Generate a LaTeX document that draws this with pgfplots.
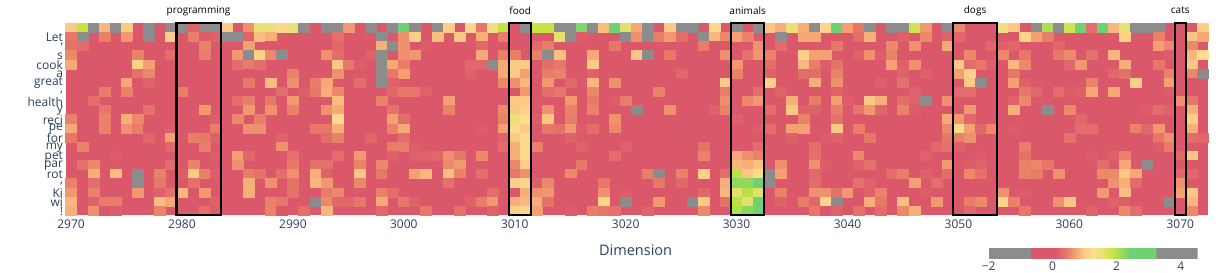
\documentclass[border=0pt]{standalone}
\usepackage{pgfplots}
\pgfplotsset{compat=1.18}
\usepackage{fontspec}
\setmainfont{Open Sans}
\definecolor{tk}{HTML}{2A3F5F}
\definecolor{cellred}{RGB}{219,88,107}
\pgfplotstableread{
x y z
2970 0 1
2971 0 1.9
2972 0 -1
2973 0 .85
2974 0 -1
2975 0 1
2977 0 -1
2979 0 -1
2980 0 -1
2981 0 .2
2982 0 -1
2983 0 -1
2984 0 1
2986 0 .6
2987 0 1.5
2988 0 1.5
2989 0 1.2
2990 0 1.5
2991 0 -1
2993 0 -1
2994 0 -1
2995 0 .65
2997 0 -1
2999 0 -1
3000 0 2.4
3001 0 -1
3003 0 -1
3004 0 1.05
3006 0 1.15
3007 0 .4
3008 0 1.4
3009 0 1.9
3011 0 -1
3012 0 1.9
3013 0 1.9
3014 0 -1
3015 0 -1
3016 0 2.3
3017 0 -1
3018 0 .9
3019 0 2.4
3020 0 1.6
3021 0 .75
3022 0 -1
3024 0 1
3025 0 -1
3026 0 -1
3028 0 1.2
3030 0 -1
3032 0 -1
3033 0 .95
3034 0 .8
3035 0 1.5
3036 0 .8
3037 0 -1
3038 0 1.15
3039 0 2.4
3040 0 .7
3041 0 .4
3042 0 -1
3044 0 -1
3045 0 -1
3046 0 1.8
3047 0 .65
3049 0 -1
3050 0 .55
3054 0 1.4
3055 0 .95
3057 0 -1
3058 0 2.05
3059 0 -1
3060 0 1.8
3061 0 2.4
3062 0 .3
3063 0 2.4
3064 0 .85
3065 0 1.55
3066 0 -1
3067 0 -1
3068 0 -1
3072 0 1.05
2970 1 .4
2971 1 -1
2973 1 .5
2975 1 .65
2977 1 -1
2979 1 1.05
2981 1 .45
2982 1 .15
2983 1 .2
2984 1 -1
2985 1 -1
2986 1 .2
2987 1 .9
2988 1 .8
2994 1 .35
2998 1 -1
3000 1 .6
3001 1 1.05
3003 1 .9
3005 1 .95
3007 1 .8
3009 1 .45
3014 1 1.6
3015 1 -1
3016 1 .15
3020 1 -1
3021 1 .6
3022 1 -1
3023 1 .45
3024 1 .65
3025 1 .3
3027 1 -1
3028 1 .85
3029 1 .55
3030 1 .7
3031 1 .5
3034 1 -1
3036 1 .75
3037 1 .75
3041 1 .3
3042 1 .8
3045 1 .2
3047 1 .55
3049 1 .2
3050 1 .25
3055 1 .1
3056 1 1.15
3057 1 .7
3058 1 .45
3065 1 1.1
3068 1 .5
3071 1 .95
3072 1 .75
2970 2 .35
2971 2 .3
2976 2 .1
2982 2 .5
2986 2 .7
2988 2 .1
2990 2 .1
2993 2 .1
2994 2 .25
2998 2 .8
2999 2 -1
3000 2 .6
3002 2 .15
3007 2 .25
3012 2 .25
3013 2 .45
3019 2 .4
3027 2 .45
3028 2 .1
3029 2 .1
3032 2 .6
3034 2 .3
3039 2 .4
3044 2 .55
3046 2 .6
3049 2 .75
3053 2 .25
3054 2 .2
3055 2 .25
3059 2 .25
3068 2 .7
3069 2 .55
3071 2 .55
2970 3 .55
2976 3 .5
2979 3 .3
2982 3 .45
2985 3 .65
2986 3 -1
2987 3 1.1
2988 3 .55
2989 3 -1
2993 3 .6
2994 3 .3
2997 3 .2
2998 3 -1
3000 3 .6
3001 3 .65
3007 3 .75
3009 3 .5
3010 3 .45
3012 3 .5
3013 3 -1
3014 3 .9
3017 3 .75
3021 3 .95
3022 3 -1
3024 3 .4
3029 3 .6
3031 3 .35
3032 3 .65
3033 3 .5
3036 3 1.1
3037 3 .7
3038 3 .7
3041 3 .2
3042 3 .6
3043 3 .15
3044 3 .5
3045 3 .1
3051 3 .55
3054 3 .55
3056 3 .4
3059 3 .4
3060 3 .55
3062 3 .35
3064 3 .85
3069 3 .15
3071 3 .85
3072 3 1.25
2970 4 .75
2973 4 .1
2975 4 .1
2976 4 1.1
2977 4 .7
2985 4 .3
2986 4 .45
2987 4 .3
2994 4 .95
2995 4 .4
2996 4 .15
2998 4 -1
2999 4 .75
3000 4 .45
3004 4 .1
3006 4 .25
3007 4 .25
3008 4 -1
3009 4 .75
3010 4 1
3011 4 1
3013 4 .3
3014 4 .4
3017 4 1
3030 4 .65
3033 4 .3
3036 4 .85
3037 4 .45
3038 4 .15
3039 4 .35
3044 4 .7
3045 4 .2
3046 4 .6
3050 4 .95
3051 4 .3
3052 4 .4
3053 4 .2
3055 4 .85
3056 4 .55
3060 4 .25
3061 4 .65
3065 4 .8
3068 4 .4
3071 4 .95
2976 5 .35
2977 5 .55
2986 5 .1
2990 5 .5
2992 5 .1
2994 5 .6
2998 5 -1
2999 5 .4
3000 5 .7
3006 5 .2
3007 5 .1
3009 5 .75
3010 5 1
3011 5 .7
3013 5 .45
3014 5 .5
3017 5 .2
3025 5 .25
3029 5 .1
3030 5 .5
3033 5 .2
3036 5 .3
3037 5 .3
3039 5 .5
3045 5 .2
3047 5 .2
3050 5 .7
3051 5 1.05
3055 5 .4
3064 5 .25
3065 5 .35
3069 5 .5
3071 5 .55
3072 5 -1
2975 6 .75
2976 6 .1
2977 6 .2
2986 6 .4
2988 6 .9
2990 6 .6
2992 6 .45
2993 6 .75
2996 6 .3
2998 6 -1
2999 6 .2
3009 6 .55
3010 6 .6
3011 6 .85
3013 6 .65
3015 6 .25
3017 6 .85
3019 6 .6
3025 6 .1
3029 6 1
3033 6 1.1
3035 6 .1
3037 6 .8
3039 6 .6
3043 6 .2
3045 6 .35
3051 6 1
3052 6 -1
3055 6 .7
3056 6 .2
3062 6 .5
3064 6 .1
3066 6 1.05
3069 6 .7
3071 6 .1
2973 7 .45
2975 7 .5
2980 7 .45
2982 7 .1
2989 7 .3
2991 7 .15
2992 7 .4
2993 7 .8
2994 7 .55
2999 7 .25
3000 7 .4
3001 7 .4
3002 7 .2
3011 7 .65
3013 7 .3
3014 7 .4
3017 7 .55
3023 7 .5
3029 7 .45
3030 7 .1
3032 7 .3
3034 7 .2
3037 7 .1
3039 7 .2
3046 7 .2
3050 7 .3
3051 7 .3
3056 7 .4
3057 7 .25
3059 7 .3
3060 7 .15
3061 7 .2
3062 7 .75
3064 7 .75
3069 7 .15
2972 8 .3
2985 8 .3
2986 8 .45
2988 8 .4
2989 8 .1
2990 8 .65
2994 8 .9
2998 8 .5
3002 8 .1
3004 8 .7
3010 8 1
3011 8 1
3015 8 .65
3017 8 .4
3019 8 .15
3020 8 .45
3027 8 .1
3029 8 .6
3031 8 .55
3032 8 .65
3035 8 .8
3037 8 .45
3039 8 .7
3040 8 .15
3041 8 .1
3042 8 .95
3043 8 .8
3045 8 .3
3046 8 .2
3047 8 -1
3049 8 .6
3055 8 .2
3056 8 .55
3070 8 .6
3071 8 .4
2973 9 .4
2977 9 .35
2982 9 .65
2986 9 .65
2988 9 .6
2990 9 .5
2993 9 .6
2994 9 .75
2999 9 .35
3004 9 .5
3009 9 .55
3010 9 .95
3011 9 1.1
3013 9 .6
3015 9 .5
3017 9 .5
3021 9 -1
3024 9 .6
3028 9 .2
3029 9 .5
3033 9 .3
3035 9 .95
3036 9 .2
3037 9 .2
3039 9 .45
3041 9 .4
3042 9 .65
3043 9 .25
3045 9 .5
3046 9 .15
3051 9 .65
3055 9 .8
3058 9 -1
3060 9 .55
3066 9 .1
3067 9 .15
3068 9 .3
3069 9 .2
3071 9 .8
2970 10 .5
2973 10 .5
2975 10 .8
2976 10 .55
2983 10 .15
2985 10 .55
2987 10 .45
2994 10 1.2
2999 10 .7
3000 10 .3
3009 10 .5
3010 10 1.5
3011 10 1.25
3012 10 .15
3013 10 .95
3015 10 .45
3019 10 .6
3030 10 .2
3036 10 .5
3039 10 .35
3041 10 .1
3049 10 .75
3050 10 .65
3051 10 .25
3061 10 .25
3071 10 1.05
2970 11 .75
2973 11 .5
2975 11 .6
2976 11 .45
2977 11 .1
2979 11 .15
2983 11 .45
2986 11 .6
2987 11 .6
2992 11 .4
2993 11 .4
2994 11 .8
2999 11 .5
3000 11 .75
3007 11 .15
3009 11 .7
3010 11 1.2
3011 11 1
3013 11 .4
3014 11 .35
3015 11 .65
3016 11 .15
3017 11 .3
3019 11 .55
3028 11 .1
3032 11 .15
3033 11 .3
3035 11 .7
3036 11 .7
3039 11 1
3041 11 .45
3049 11 .55
3050 11 1.2
3051 11 .7
3052 11 .25
3053 11 .55
3055 11 .15
3061 11 .3
3062 11 .3
3066 11 .5
3067 11 .25
3068 11 .65
3071 11 .8
2970 12 .4
2977 12 .25
2979 12 .7
2981 12 .45
2982 12 .4
2983 12 .2
2989 12 .2
2993 12 .3
2994 12 .5
2997 12 .25
3000 12 .3
3009 12 .2
3010 12 1
3011 12 1.2
3015 12 .2
3019 12 .1
3035 12 .2
3038 12 .15
3039 12 .2
3042 12 .4
3049 12 .4
3050 12 .5
3051 12 .6
3060 12 .35
3066 12 .1
3068 12 .4
3069 12 .6
3071 12 .3
3072 12 .25
2971 13 .5
2975 13 .1
2979 13 .25
2982 13 .45
2989 13 .6
2999 13 .45
3000 13 .45
3001 13 .15
3007 13 .1
3009 13 .3
3010 13 .8
3011 13 1.2
3012 13 .5
3016 13 .2
3020 13 .2
3027 13 .35
3032 13 .3
3037 13 .3
3048 13 .25
3049 13 .35
3050 13 .2
3056 13 .45
3061 13 .1
3068 13 .15
3069 13 .45
2974 14 .15
2983 14 .15
2984 14 .1
2985 14 .7
2986 14 .25
2989 14 .1
2990 14 .35
2994 14 .3
2996 14 .65
2999 14 .2
3001 14 .2
3002 14 .2
3003 14 .25
3004 14 .6
3005 14 .4
3007 14 .55
3010 14 .8
3011 14 1.2
3019 14 .3
3027 14 .5
3030 14 .75
3031 14 .6
3032 14 .5
3037 14 .35
3041 14 .55
3042 14 .1
3047 14 .2
3051 14 .1
3052 14 .15
3056 14 .35
3062 14 .15
3064 14 .2
3065 14 .5
3070 14 .25
3071 14 .95
2971 15 .35
2972 15 .55
2979 15 .3
2981 15 .5
2985 15 .6
2989 15 .1
2990 15 .4
2992 15 .35
2993 15 .35
2996 15 .5
2998 15 .55
3004 15 .55
3005 15 .65
3009 15 .1
3010 15 .55
3011 15 1.05
3012 15 .1
3016 15 .4
3017 15 .1
3030 15 .85
3031 15 .8
3032 15 .9
3034 15 .6
3037 15 .6
3038 15 .15
3041 15 .2
3042 15 .35
3049 15 .65
3050 15 .1
3051 15 .15
3052 15 .2
3056 15 .5
3057 15 .55
3058 15 .4
3060 15 .1
3063 15 .3
3065 15 .75
3067 15 -1
3070 15 .1
3071 15 .1
2972 16 .8
2974 16 .9
2976 16 -1
2978 16 .5
2980 16 .15
2981 16 1
2982 16 .5
2983 16 .15
2986 16 .45
2987 16 .35
2989 16 .3
2990 16 .6
2992 16 .8
2993 16 .2
2994 16 .1
2996 16 .95
2998 16 .4
2999 16 .1
3001 16 .7
3002 16 .85
3004 16 .9
3005 16 .5
3007 16 .3
3010 16 .4
3011 16 .6
3015 16 .55
3019 16 .1
3022 16 .45
3023 16 -1
3025 16 .5
3027 16 1.1
3029 16 .3
3030 16 1.95
3031 16 .95
3032 16 1.35
3033 16 -1
3034 16 .7
3037 16 .25
3044 16 .3
3045 16 .45
3047 16 .2
3049 16 .3
3051 16 .55
3052 16 .35
3056 16 .5
3057 16 .45
3059 16 .6
3063 16 .55
3064 16 .55
3065 16 .95
3066 16 .75
3070 16 .25
3071 16 .25
2970 17 .5
2972 17 .3
2974 17 .1
2976 17 -1
2978 17 .4
2981 17 .35
2986 17 .8
2988 17 .6
2990 17 .35
2992 17 .85
2993 17 .65
2996 17 .55
3004 17 .35
3005 17 .1
3010 17 1.05
3011 17 1.15
3012 17 .15
3013 17 .55
3015 17 .1
3018 17 .4
3023 17 .4
3025 17 .25
3029 17 .8
3030 17 2.2
3031 17 2.2
3032 17 2.4
3033 17 -1
3037 17 .3
3039 17 .1
3041 17 .35
3042 17 .2
3046 17 .7
3048 17 .3
3064 17 .6
3065 17 .8
3066 17 .3
3070 17 .6
2970 18 .65
2972 18 .5
2976 18 .65
2978 18 .2
2979 18 .35
2980 18 .85
2982 18 .65
2986 18 .8
2990 18 .35
2993 18 .45
2994 18 .55
2998 18 .5
2999 18 .3
3008 18 .3
3011 18 .8
3012 18 .6
3013 18 .65
3018 18 .6
3020 18 .15
3027 18 .25
3029 18 .85
3030 18 1.6
3031 18 1.95
3032 18 1.6
3034 18 .5
3037 18 .6
3038 18 .6
3039 18 .35
3040 18 .65
3041 18 .1
3042 18 .2
3043 18 .5
3047 18 .15
3051 18 .1
3054 18 .6
3056 18 .15
3063 18 .65
3065 18 .9
3070 18 .7
3071 18 .95
2970 19 .85
2972 19 .2
2973 19 .45
2974 19 .45
2978 19 .9
2979 19 .75
2983 19 .2
2988 19 .5
2989 19 .4
2992 19 -1
2993 19 .55
2994 19 .25
2995 19 .25
2996 19 .4
2998 19 .75
3000 19 .4
3001 19 .2
3002 19 .1
3006 19 .2
3007 19 .45
3008 19 .65
3009 19 .1
3010 19 .8
3011 19 .85
3012 19 .8
3013 19 .35
3018 19 1.15
3020 19 -1
3023 19 .65
3026 19 -1
3027 19 1
3029 19 .35
3030 19 1.95
3031 19 1.6
3032 19 2.4
3034 19 .2
3036 19 .45
3037 19 .25
3038 19 1.15
3039 19 -1
3042 19 .8
3043 19 .4
3045 19 .9
3047 19 .1
3048 19 .65
3051 19 .45
3052 19 .55
3054 19 1.15
3055 19 .5
3059 19 .6
3060 19 .95
3062 19 .1
3064 19 .2
3065 19 .15
3066 19 .1
3069 19 -1
3071 19 .85
2970 20 .8
2972 20 .6
2973 20 .1
2974 20 .15
2978 20 .5
2982 20 .35
2983 20 .15
2988 20 .5
2989 20 .1
2991 20 .3
2993 20 .85
2998 20 .25
3002 20 .4
3005 20 .35
3008 20 .2
3010 20 1.05
3011 20 1.15
3012 20 .7
3015 20 .15
3017 20 .45
3018 20 .4
3019 20 .35
3022 20 .2
3027 20 .55
3030 20 2
3031 20 2.25
3032 20 2.4
3037 20 .4
3038 20 .1
3039 20 .2
3041 20 .35
3043 20 .3
3045 20 .55
3046 20 .8
3051 20 .25
3056 20 .4
3062 20 .2
3065 20 .55
3066 20 .3
3070 20 .1
3071 20 .55
}\cells
\pgfplotsset{boxline/.style={black,line width=2.2pt,no marks}}
\begin{document}
\begin{tikzpicture}[x=1pt,y=1pt]
\useasboundingbox (0,0) rectangle (1226,273);
\begin{axis}[
  at={(65.5pt,58pt)},anchor=south west,
  scale only axis,width=1142.5pt,height=192pt,
  xmin=2969.5,xmax=3072.5,ymin=-0.5,ymax=20.5,y dir=reverse,
  clip=false,
  axis line style={draw=none},
  major tick length=0pt,tick style={draw=none},
  xtick={2970,2980,...,3070},
  xticklabels={2970,2980,2990,3000,3010,3020,3030,3040,3050,3060,3070},
  ytick={1,...,20},
  yticklabels={Let,{'},s,cook,a,great,{,},health,y,reci,pe,for,my,pet,par,rot,{,},Ki,wi,!},
  tick label style={font=\fontsize{12}{12}\selectfont,text=tk},
  xticklabel style={yshift=-1pt},
  yticklabel style={xshift=1pt,yshift=-1pt},
  xlabel={Dimension},
  xlabel style={at={(axis description cs:0.499,-0.182)},anchor=center,font=\fontsize{14.5}{14.5}\selectfont,text=tk},
  colormap={hm}{
    rgb255(0cm)=(140,140,140) rgb255(1.31cm)=(140,140,140)
    rgb255(1.32cm)=(219,88,107) rgb255(2.1cm)=(219,88,107)
    rgb255(2.5cm)=(234,130,105) rgb255(2.7cm)=(244,160,115)
    rgb255(2.95cm)=(252,198,132) rgb255(3.25cm)=(253,222,140)
    rgb255(3.55cm)=(232,225,115) rgb255(3.9cm)=(195,228,65)
    rgb255(4.4cm)=(110,210,115) rgb255(5.22cm)=(110,210,115)
    rgb255(5.23cm)=(140,140,140) rgb255(6.53cm)=(140,140,140)
  },
  point meta min=-2,point meta max=4.53,
  colorbar horizontal,
  colorbar style={
    at={(0.808,-0.224)},anchor=south west,
    scale only axis,width=209pt,height=10pt,
    xtick={-2,0,2,4},xticklabels={−2,0,2,4},
    axis line style={draw=none},major tick length=0pt,
    xticklabel style={font=\fontsize{12}{12}\selectfont,text=tk},
    ylabel={},xlabel={}
  },
]
\addplot[draw=none,fill=cellred,forget plot] coordinates {(2969.5,-0.5)(3072.5,-0.5)(3072.5,20.5)(2969.5,20.5)} --cycle;
\addplot[scatter,only marks,mark=square*,mark size=5.5pt,
  scatter/use mapped color={draw=mapped color,fill=mapped color,line width=0.1pt},
  every mark/.append style={yscale=0.824},
  point meta=explicit] table[x=x,y=y,meta=z] {\cells};
\end{axis}
\begin{axis}[
  at={(65.5pt,58pt)},anchor=south west,
  scale only axis,width=1142.5pt,height=192pt,
  xmin=2969.5,xmax=3072.5,ymin=-0.5,ymax=20.5,y dir=reverse,
  clip=false,hide axis,
]
\addplot[boxline] coordinates {(2979.5,-0.5)(2983.5,-0.5)(2983.5,20.5)(2979.5,20.5)} --cycle;
\addplot[boxline] coordinates {(3009.5,-0.5)(3011.5,-0.5)(3011.5,20.5)(3009.5,20.5)} --cycle;
\addplot[boxline] coordinates {(3029.5,-0.5)(3032.5,-0.5)(3032.5,20.5)(3029.5,20.5)} --cycle;
\addplot[boxline] coordinates {(3049.5,-0.5)(3053.5,-0.5)(3053.5,20.5)(3049.5,20.5)} --cycle;
\addplot[boxline] coordinates {(3069.5,-0.5)(3070.5,-0.5)(3070.5,20.5)(3069.5,20.5)} --cycle;
\node[font=\fontsize{10}{10}\selectfont] at (axis cs:2981.5,-1.85) {programming};
\node[font=\fontsize{10}{10}\selectfont] at (axis cs:3010.5,-1.85) {food};
\node[font=\fontsize{10}{10}\selectfont] at (axis cs:3031,-1.85) {animals};
\node[font=\fontsize{10}{10}\selectfont] at (axis cs:3051.5,-1.85) {dogs};
\node[font=\fontsize{10}{10}\selectfont] at (axis cs:3070,-1.85) {cats};
\end{axis}
\end{tikzpicture}
\end{document}
